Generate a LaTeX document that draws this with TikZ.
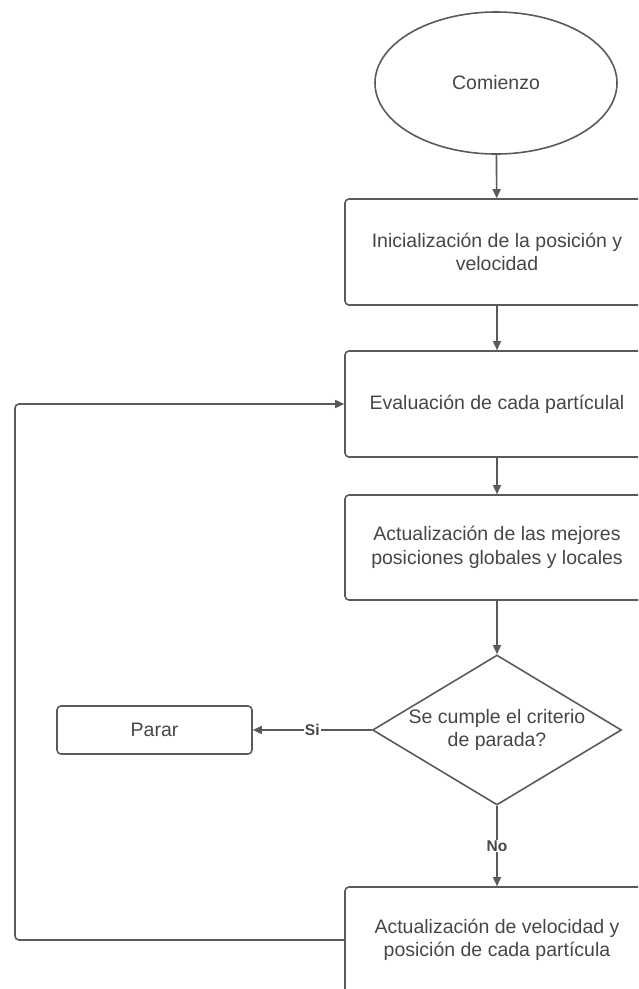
\documentclass[tikz,border=0pt]{standalone}
\usepackage{fontspec}
\setmainfont{Liberation Sans}
\usetikzlibrary{arrows.meta,shapes.geometric}
\definecolor{flowline}{RGB}{90,90,90}
\definecolor{flowtext}{RGB}{70,70,70}

\tikzset{
  procbox/.style={draw=flowline,line width=1.6pt,rounded corners=4pt,
    minimum width=304pt,inner sep=0pt,align=center,text=flowtext,
    font=\fontsize{19.5}{23.5}\selectfont},
  startoval/.style={draw=flowline,line width=1.6pt,ellipse,minimum width=242pt,
    minimum height=142pt,inner sep=0pt,text=flowtext,font=\fontsize{19.5}{23.5}\selectfont},
  decision/.style={draw=flowline,line width=1.6pt,diamond,minimum width=249pt,
    minimum height=150pt,inner xsep=-60pt,inner ysep=-12pt,align=center,text=flowtext,
    font=\fontsize{19.5}{23.5}\selectfont},
  flowarrow/.style={draw=flowline,line width=1.6pt,-{Triangle[length=9pt,width=8pt]}},
  answer/.style={fill=white,inner sep=1pt,text=flowtext,font=\fontsize{15.5}{17}\selectfont\bfseries}
}

\begin{document}
\begin{tikzpicture}[x=1pt,y=-1pt]
  \clip (0,0) rectangle (638,989);
  % Shapes
  \node[startoval] (start) at (496,83) {Comienzo};
  \node[procbox,minimum height=106pt] (init) at (497,252)
    {Inicialización de la posición y\\velocidad};
  \node[procbox,minimum height=106pt] (eval) at (497,404)
    {Evaluación de cada partículal};
  \node[procbox,minimum height=105pt] (best) at (497,547.5)
    {Actualización de las mejores\\posiciones globales y locales};
  \node[decision] (check) at (497,730) {Se cumple el criterio\\de parada?};
  \node[procbox,minimum width=195pt,minimum height=48pt] (stop) at (154.5,730) {Parar};
  \node[procbox,minimum height=106pt] (update) at (497,940)
    {Actualización de velocidad y\\posición de cada partícula};
  % Connectors
  \draw[flowarrow] (start) -- (init);
  \draw[flowarrow] (init) -- (eval);
  \draw[flowarrow] (eval) -- (best);
  \draw[flowarrow] (best) -- (check);
  \draw[flowarrow] (check.west) -- node[answer] {Si} (stop.east);
  \draw[flowarrow] (check.south) -- node[answer] {No} (update.north);
  % Loop back
  \coordinate (loopbottom) at (15,940);
  \coordinate (looptop) at (15,404);
  \draw[flowarrow,rounded corners=4pt] (update.west) -- (loopbottom) -- (looptop) -- (eval.west);
\end{tikzpicture}
\end{document}
